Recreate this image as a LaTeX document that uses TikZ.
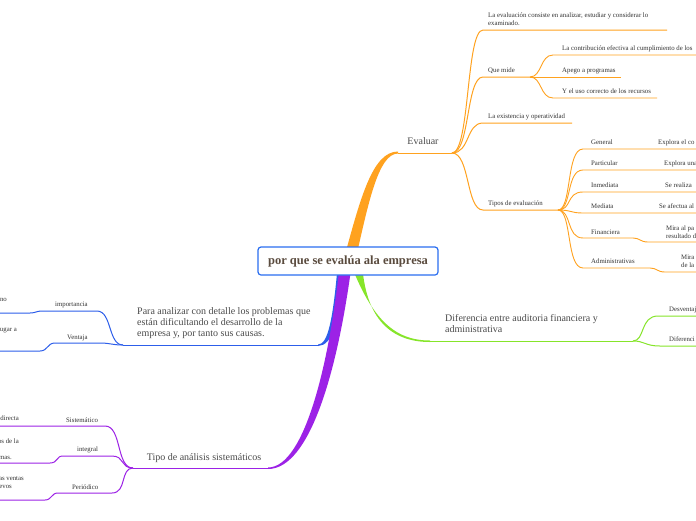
\documentclass[tikz,border=0pt]{standalone}
\usepackage{fontspec}
\setmainfont{Liberation Serif}
\usetikzlibrary{positioning}

\definecolor{evorange}{HTML}{FFA21F}
\definecolor{difgreen}{HTML}{86E52A}
\definecolor{tipopurple}{HTML}{9C22E6}
\definecolor{parablue}{HTML}{2D5EEA}
\definecolor{boxblue}{HTML}{2A6EF0}
\definecolor{leaftext}{HTML}{333333}
\definecolor{topictext}{HTML}{4A4A4A}
\definecolor{roottext}{HTML}{5A4B3E}

\begin{document}
\begin{tikzpicture}[
    x=1pt, y=-1pt,
    leaf/.style={font=\fontsize{6.8}{8}\selectfont, text=leaftext, inner sep=0pt, anchor=base west, align=left},
    leftcut/.style={leaf, anchor=base east},
    topic/.style={font=\fontsize{10}{11}\selectfont, text=topictext, inner sep=0pt, anchor=base west, align=left},
    branch/.style={line width=1pt},
    twig/.style={line width=0.9pt}
]
\useasboundingbox (0,0) rectangle (696,520);
\clip (0,0) rectangle (696,520);
\fill[white] (0,0) rectangle (696,520);

% --- Thick main branches ---
\fill[parablue] (338,262) .. controls (333,320) and (328,344.5) .. (318,344.5)
    -- (318,346) .. controls (332,346) and (342,320) .. (346,262) -- cycle;
\fill[difgreen] (350,262) .. controls (372,320) and (395,340.5) .. (430,340.5)
    -- (430,342) .. controls (392,342) and (365,320) .. (362,262) -- cycle;
\fill[evorange] (343,262) .. controls (360,200) and (372,151.5) .. (398,151.5)
    -- (398,153.5) .. controls (378,153.5) and (368,205) .. (355,262) -- cycle;
\fill[tipopurple] (340,262) .. controls (330,360) and (305,467.5) .. (268,467.5)
    -- (268,469) .. controls (310,469) and (338,370) .. (352,262) -- cycle;

% --- Root ---
\node (root) [draw=boxblue, line width=1.2pt, fill=white, rounded corners=3pt,
    minimum width=180pt, minimum height=28pt, text=roottext,
    font=\fontsize{12.5}{14}\selectfont\bfseries] at (348,261) {por que se evalúa ala empresa};

% --- Evaluar ---
\coordinate (evs) at (398,153);
\coordinate (evj) at (452,153);
\node (evaluar) [topic, anchor=base] at (423,144) {Evaluar};
\draw[evorange, branch] (evs) -- (evj);

\node (consiste) [leaf] at (488,25) {La evaluación consiste en analizar, estudiar y considerar lo\\examinado.};
\node (quemide) [leaf] at (488,72) {Que mide};
\node (existencia) [leaf] at (488,118) {La existencia y operatividad};
\node (tipos) [leaf] at (488,205) {Tipos de evaluación};
\coordinate (qmj) at (530,77);
\coordinate (tej) at (558,210);

\draw[evorange, branch] (evj) .. controls (470,153) and (466,30) .. (483,30) -- (667,30);
\draw[evorange, branch] (evj) .. controls (470,153) and (466,77) .. (483,77) -- (qmj);
\draw[evorange, branch] (evj) .. controls (470,153) and (466,123) .. (483,123) -- (572,123);
\draw[evorange, branch] (evj) .. controls (470,153) and (466,210) .. (483,210) -- (tej);

% --- Que mide ---
\node (contrib) [leaf] at (562,50) {La contribución efectiva al cumplimiento de los};
\node (apego) [leaf] at (562,72) {Apego a programas};
\node (yuso) [leaf] at (562,93) {Y el uso correcto de los recursos};
\draw[evorange, twig] (qmj) .. controls (542,77) and (540,55) .. (553,55) -- (696,55);
\draw[evorange, twig] (qmj) -- (621,77);
\draw[evorange, twig] (qmj) .. controls (542,77) and (540,98) .. (553,98) -- (657,98);

% --- Tipos de evaluacion ---
\node (general) [leaf] at (591,144) {General};
\node (particular) [leaf] at (591,165) {Particular};
\node (inmediata) [leaf] at (591,187) {Inmediata};
\node (mediata) [leaf] at (591,208) {Mediata};
\node (financiera) [leaf] at (591,234) {Financiera};
\node (administrativas) [leaf] at (591,263) {Administrativas};
\node (generaltxt) [leaf] at (658,144) {Explora el co};
\node (particulartxt) [leaf] at (664,165) {Explora una};
\node (inmediatatxt) [leaf] at (665,187) {Se realiza};
\node (mediatatxt) [leaf] at (659,208) {Se afectua al};
\node (financieratxt) [leaf] at (666,238) {Mira al pa\\resultado d};
\node (administxt) [leaf] at (681,267) {Mira\\de la};

\draw[evorange, twig] (tej) .. controls (572,210) and (566,149) .. (583,149) -- (696,149);
\draw[evorange, twig] (tej) .. controls (572,210) and (566,170) .. (583,170) -- (696,170);
\draw[evorange, twig] (tej) .. controls (572,210) and (566,192) .. (583,192) -- (696,192);
\draw[evorange, twig] (tej) .. controls (572,210) and (570,213) .. (583,213) -- (696,213);
\draw[evorange, twig] (tej) .. controls (572,210) and (566,238) .. (583,238) -- (633,238)
    .. controls (640,238) and (640,242) .. (648,242) -- (696,242);
\draw[evorange, twig] (tej) .. controls (572,210) and (566,268) .. (583,268) -- (650,268)
    .. controls (657,268) and (657,272) .. (665,272) -- (696,272);

% --- Diferencia ---
\coordinate (dfs) at (430,341);
\coordinate (dfj) at (633,341);
\node (diferencia) [topic] at (445,332) {Diferencia entre auditoria financiera y\\administrativa};
\draw[difgreen, branch] (dfs) -- (dfj);
\node (desventaja) [leaf] at (669,311) {Desventaj};
\node (diferencias) [leaf] at (669,341) {Diferenci};
\draw[difgreen, branch] (dfj) .. controls (645,341) and (640,316) .. (658,316) -- (696,316);
\draw[difgreen, branch] (dfj) .. controls (645,341) and (645,346) .. (660,346) -- (696,346);

% --- Para analizar ---
\coordinate (pas) at (318,345);
\coordinate (paj) at (123,345);
\node (para) [topic] at (137,336) {Para analizar con detalle los problemas que\\están dificultando el desarrollo de la\\empresa y, por tanto sus causas.};
\draw[parablue, branch] (pas) -- (paj);
\node (importancia) [leaf] at (55,306) {importancia};
\node (ventaja) [leaf] at (67,339) {Ventaja};
\node (importanciatxt) [leftcut] at (7,301) {no};
\node (ventajatxt) [leftcut] at (17,331) {ugar a};
\draw[parablue, branch] (paj) .. controls (108,345) and (112,311) .. (97,311) -- (42,311)
    .. controls (36,311) and (36,313) .. (30,313) -- (0,313);
\draw[parablue, branch] (paj) .. controls (112,345) and (110,343) .. (100,343) -- (55,343)
    .. controls (47,343) and (48,351) .. (40,351) -- (0,351);

% --- Tipo de analisis ---
\coordinate (tps) at (268,468);
\coordinate (tpj) at (133,468);
\node (tipo) [topic, anchor=base] at (204,460) {Tipo de análisis sistemáticos};
\draw[tipopurple, branch] (tps) -- (tpj);
\node (sistematico) [leaf] at (66,422) {Sistemático};
\node (integral) [leaf] at (77,451) {integral};
\node (periodico) [leaf] at (72,489) {Periódico};
\node (sistematicotxt) [leftcut] at (19,420) {directa};
\node (integraltxt) [leftcut] at (19,443) {os de la};
\node (integraltxtb) [leftcut] at (12,459) {mas.};
\node (periodicotxt) [leftcut] at (24,480) {as ventas};
\node (periodicotxtb) [leftcut] at (12,488) {evos};
\draw[tipopurple, branch] (tpj) .. controls (116,468) and (122,426) .. (105,426) -- (0,426);
\draw[tipopurple, branch] (tpj) .. controls (120,468) and (125,456) .. (112,456) -- (63,456)
    .. controls (56,456) and (58,463) .. (50,463) -- (0,463);
\draw[tipopurple, branch] (tpj) .. controls (120,468) and (127,493) .. (112,493) -- (58,493)
    .. controls (51,493) and (52,500) .. (45,500) -- (0,500);

\end{tikzpicture}
\end{document}
